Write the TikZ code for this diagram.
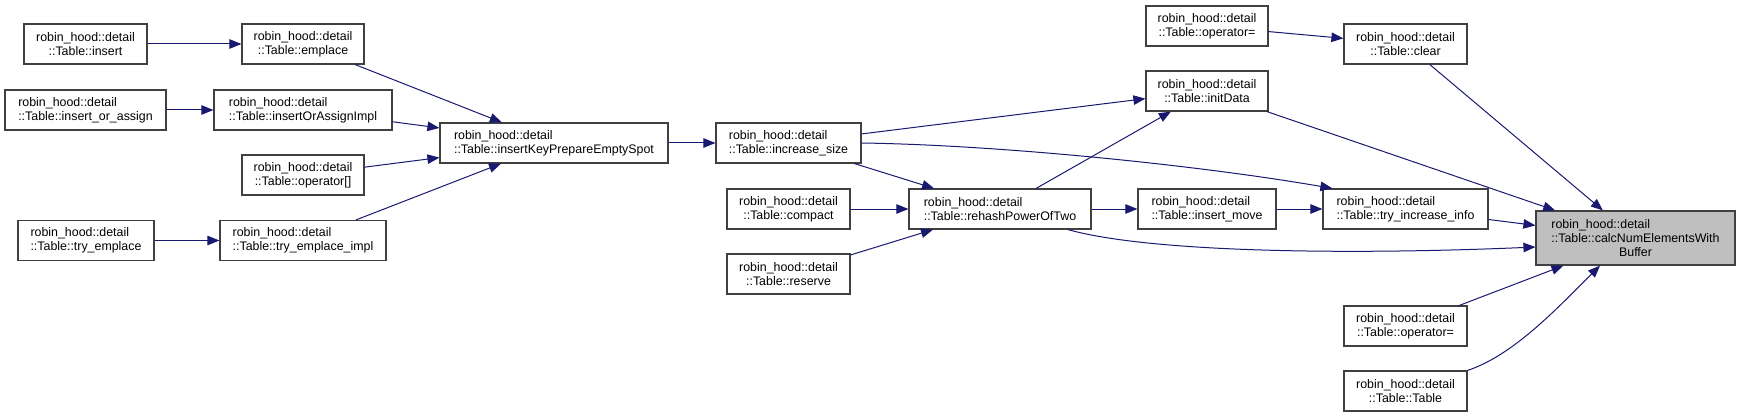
\documentclass[tikz,border=0pt]{standalone}
\usepackage{fontspec}
\setmainfont{Liberation Sans}
\usetikzlibrary{arrows.meta}
\definecolor{edgeblue}{HTML}{191970}
\definecolor{boxgray}{HTML}{404040}
\definecolor{hlgray}{HTML}{BFBFBF}

\begin{document}
\begin{tikzpicture}[x=1pt, y=-1pt,
  fn/.style={draw=boxgray, line width=1.2pt, fill=white, inner sep=0pt,
    minimum height=40pt, font=\fontsize{12.4}{14}\selectfont, align=center},
  fnl/.style={fn, align=left},
  target/.style={fn, fill=hlgray, minimum height=54pt, align=left},
  call/.style={-{Triangle[length=12pt, width=9.5pt]}, edgeblue, line width=1pt},
]
\useasboundingbox (0,0) rectangle (1740,417);

% ===== Left column: callers of the insert helpers =====
\node[fn, minimum width=123pt] (insert) at (85.5,44) {robin\_hood::detail\\::Table::insert};
\node[fn, minimum width=122pt] (emplace) at (303,44) {robin\_hood::detail\\::Table::emplace};
\node[fnl, minimum width=161pt] (insoa) at (85.5,110) {robin\_hood::detail\\::Table::insert\_or\_assign};
\node[fnl, minimum width=178pt] (insoai) at (303,110) {robin\_hood::detail\\::Table::insertOrAssignImpl};
\node[fn, minimum width=122pt] (opidx) at (303,175) {robin\_hood::detail\\::Table::operator[]};
\node[fnl, minimum width=136pt] (tryemp) at (86,240.5) {robin\_hood::detail\\::Table::try\_emplace};
\node[fnl, minimum width=166pt] (tryempi) at (303,240.5) {robin\_hood::detail\\::Table::try\_emplace\_impl};

% ===== Middle =====
\node[fnl, minimum width=228pt] (ikpes) at (554,143) {robin\_hood::detail\\::Table::insertKeyPrepareEmptySpot};
\node[fnl, minimum width=145pt] (incsize) at (788.5,143) {robin\_hood::detail\\::Table::increase\_size};
\node[fn, minimum width=123pt] (compact) at (788.5,209) {robin\_hood::detail\\::Table::compact};
\node[fn, minimum width=123pt] (reserve) at (788.5,274) {robin\_hood::detail\\::Table::reserve};
\node[fnl, minimum width=182pt] (rehash) at (1000,209) {robin\_hood::detail\\::Table::rehashPowerOfTwo};
\node[fn, minimum width=122pt] (opassignA) at (1207,26) {robin\_hood::detail\\::Table::operator=};
\node[fn, minimum width=122pt] (initdata) at (1207,91) {robin\_hood::detail\\::Table::initData};
\node[fnl, minimum width=138pt] (insmove) at (1207,209) {robin\_hood::detail\\::Table::insert\_move};

% ===== Right column =====
\node[fn, minimum width=123pt] (clear) at (1405.5,44) {robin\_hood::detail\\::Table::clear};
\node[fnl, minimum width=165pt] (tryinc) at (1405.5,209) {robin\_hood::detail\\::Table::try\_increase\_info};
\node[fn, minimum width=123pt] (opassignB) at (1405.5,326) {robin\_hood::detail\\::Table::operator=};
\node[fn, minimum width=123pt] (ctor) at (1405.5,391) {robin\_hood::detail\\::Table::Table};
\node[target, minimum width=199pt] (calc) at (1635.5,238)
  {robin\_hood::detail\\::Table::calcNumElementsWith\\\hspace*{\fill}Buffer\hspace*{\fill}};

% ===== Calls =====
\draw[call] (insert) -- (emplace);
\draw[call] (insoa) -- (insoai);
\draw[call] (tryemp) -- (tryempi);
\draw[call] (emplace) -- (ikpes);
\draw[call] (insoai) -- (ikpes);
\draw[call] (opidx) -- (ikpes);
\draw[call] (tryempi) -- (ikpes);
\draw[call] (ikpes) -- (incsize);

\draw[call] (incsize) -- (initdata);
\draw[call] (incsize) -- (rehash);
\draw[call] (incsize.east) .. controls +(139,2) and +(-133,-23) .. ([xshift=10pt]tryinc.north west);
\draw[call] (compact) -- (rehash);
\draw[call] (reserve) -- (rehash);
\draw[call] (rehash) -- (initdata);
\draw[call] (rehash) -- (insmove);
\draw[call] ([xshift=68pt]rehash.south) .. controls +(82,23) and +(-186,8) .. ([yshift=-9pt]calc.west);
\draw[call] (insmove) -- (tryinc);
\draw[call] (opassignA) -- (clear);

% into the target
\draw[call] (clear) -- (calc);
\draw[call] (initdata) -- (calc);
\draw[call] (tryinc) -- (calc);
\draw[call] (opassignB) -- (calc);
\draw[call] (ctor.north east) .. controls +(45,-15) and +(-45,45) .. ([xshift=-35.5pt]calc.south);

\end{tikzpicture}
\end{document}
